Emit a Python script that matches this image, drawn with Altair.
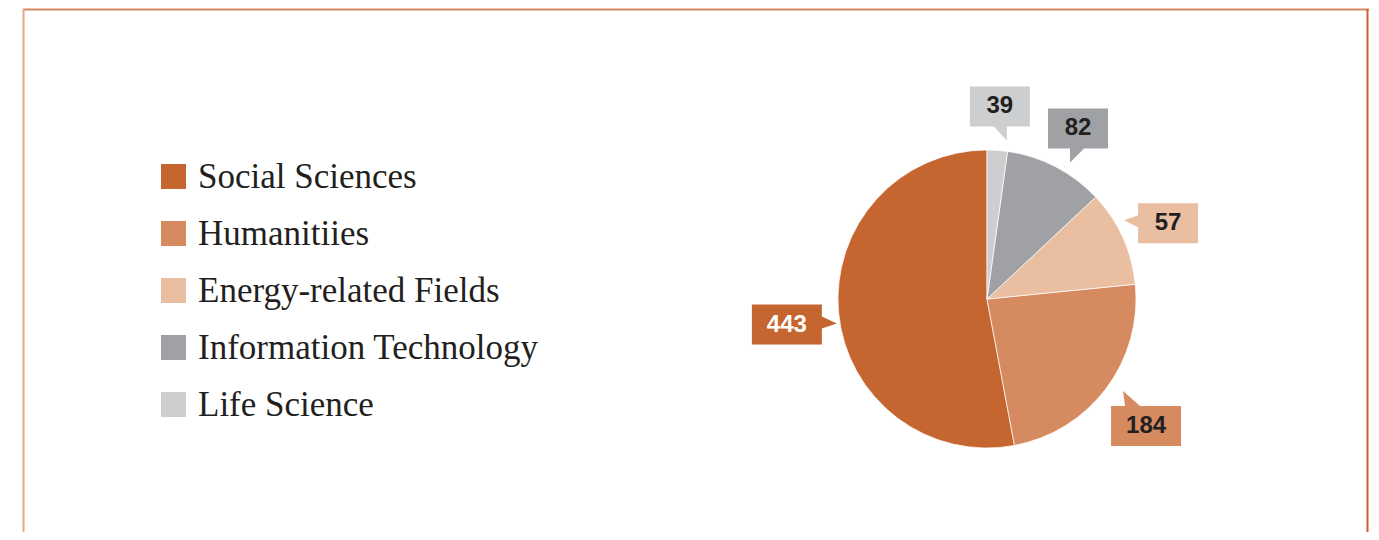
import altair as alt
import pandas as pd

# ---- data ----
categories = ["Social Sciences", "Humanitiies", "Energy-related Fields",
              "Information Technology", "Life Science"]
counts = [443, 184, 57, 82, 39]
# slice sizes (percent of the circle)
slice_share = [52.9, 23.6, 10.4, 10.8, 2.2]
legend_rank = [0, 1, 2, 3, 4]

colors = ["#c5652f", "#d58a60", "#eabea0", "#a0a1a4", "#cdced0"]

# callout shapes (box + pointer), drawn in pixel units around the box centre
callout_paths = [
    "M-35,-20 H35 V-8 L50,-1 L35,4 V20 H-35 Z",          # Social Sciences
    "M-35,-20 H-21 L-23,-35 L-6,-20 H35 V20 H-35 Z",      # Humanitiies
    "M-30,-20 H30 V20 H-30 V4 L-44,-3 L-30,-8 Z",         # Energy
    "M-30,-20 H30 V20 H6 L-8,34 V20 H-30 Z",              # IT
    "M-30,-20 H30 V20 H7 V34 L-6,20 H-30 Z",              # Life Science
]

df = pd.DataFrame({"category": categories, "count": counts,
                   "share": slice_share, "rank": legend_rank})

CX, CY, R = 979, 290, 149
LCX, LCY, LR = 978, 297, 200  # centre and radius for the callout ring
W, H = 1363, 524

color_scale = alt.Scale(domain=categories, range=colors)

base = alt.Chart(df)

pie = base.mark_arc(outerRadius=R, stroke="white", strokeWidth=0.7).encode(
    theta=alt.Theta("share:Q", stack=True),
    order=alt.Order("rank:Q", sort="descending"),
    color=alt.Color(
        "category:N", scale=color_scale,
        legend=alt.Legend(
            title=None, orient="none", legendX=148, legendY=150,
            direction="vertical", symbolType="square", symbolSize=625,
            symbolStrokeWidth=0, symbolOpacity=1,
            labelFont="Liberation Serif", labelFontSize=35,
            labelColor="#231f20", labelOffset=7, rowPadding=21,
            padding=0, labelLimit=0,
        ),
    ),
    x=alt.value(CX), y=alt.value(CY),
)

calc = base.transform_joinaggregate(total="sum(share)").transform_window(
    cum="sum(share)", sort=[alt.SortField("rank", order="descending")],
    frame=[None, 0],
).transform_calculate(
    mid="2*PI*(datum.cum - datum.share/2)/datum.total",
).transform_calculate(
    bx=f"{LCX} + {LR}*sin(datum.mid)",
    by=f"{LCY} - {LR}*cos(datum.mid)",
)

box_layers = []
for cat, path, col in zip(categories, callout_paths, colors):
    box_layers.append(
        calc.transform_filter(alt.datum.category == cat)
        .mark_point(filled=True, opacity=1, size=4, strokeWidth=0,
                    shape=path, fill=col, color=col)
        .encode(x=alt.X("bx:Q", scale=None), y=alt.Y("by:Q", scale=None))
    )

labels = calc.mark_text(font="Liberation Sans", fontWeight="bold", fontSize=24,
                        align="center", baseline="middle").encode(
    x=alt.X("bx:Q", scale=None),
    y=alt.Y("by:Q", scale=None),
    text=alt.Text("count:Q"),
    color=alt.condition("datum.category == 'Social Sciences'",
                        alt.value("#ffffff"), alt.value("#231f20")),
)

frame_df = pd.DataFrame({"f": [0]})
frame = alt.Chart(frame_df)
top_line = frame.mark_rule(color="#d5875f", strokeWidth=2).encode(
    x=alt.value(15), x2=alt.value(1361), y=alt.value(0.5))
left_line = frame.mark_rule(color="#e8a987", strokeWidth=2).encode(
    x=alt.value(15.5), y=alt.value(0), y2=alt.value(H))
right_line = frame.mark_rule(color="#cf5e2c", strokeWidth=2).encode(
    x=alt.value(1359.5), y=alt.value(0), y2=alt.value(H))

chart = alt.layer(top_line, left_line, right_line, pie, *box_layers, labels).properties(
    width=W, height=H,
    autosize=alt.AutoSizeParams(type="fit", contains="padding"),
    padding=0,
).configure_view(stroke=None)

chart.save("out.html", embed_options={"renderer": "svg", "actions": False})
